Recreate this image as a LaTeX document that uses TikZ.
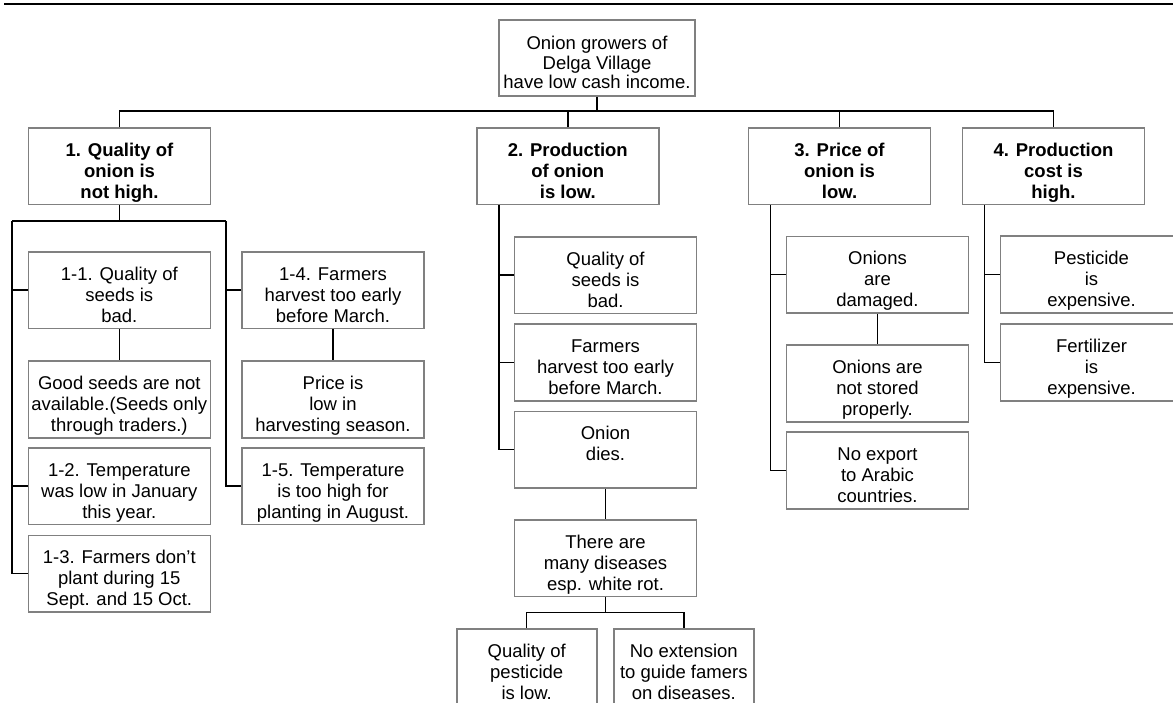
\documentclass[tikz,border=0pt]{standalone}
\usepackage{fontspec}
\setmainfont{Liberation Sans}
% three centred lines, set a little low in their box
\newcommand{\lines}[1]{\begin{tabular}{@{}c@{}}\rule{0pt}{28.3pt}#1\end{tabular}}
\begin{document}
\begin{tikzpicture}[x=1pt,y=-1pt,
  box/.style={draw=gray, line width=1.6pt, fill=white, minimum width=182pt,
    minimum height=76pt, inner sep=0pt,
    font=\fontsize{18.5}{21}\selectfont},
  headbox/.style={box, font=\fontsize{18.5}{21}\selectfont\bfseries},
  leafbox/.style={box, minimum width=140pt},
  link/.style={draw=black, line width=1.5pt},
  rule/.style={draw=black, line width=2.3pt}]
\useasboundingbox (0,0) rectangle (1173,702);
\clip (0,0) rectangle (1173,702);

% heading rule
\coordinate (ruleL) at (4,4.3);
\coordinate (ruleR) at (1173,4.3);
\draw[rule] (ruleL) -- (ruleR);

% core problem
\node[box, minimum width=196pt, font=\fontsize{18.5}{19.5}\selectfont] (root) at (597,58)
  {\lines{Onion growers of\\Delga Village\\have low cash income.}};

% direct causes
\node[headbox] (q1) at (119.5,166.3) {\lines{1. Quality of\\onion is\\not high.}};
\node[headbox] (q2) at (567.8,166.3) {\lines{2. Production\\of onion\\is low.}};
\node[headbox] (q3) at (839.5,166.3) {\lines{3. Price of\\onion is\\low.}};
\node[headbox] (q4) at (1053.5,166.3) {\lines{4. Production\\cost is\\high.}};

% branch 1
\node[box] (n11) at (119.3,290) {\lines{1-1. Quality of\\seeds is\\bad.}};
\node[box] (g11) at (119.3,399.5) {\lines{Good seeds are not\\available.(Seeds only\\through traders.)}};
\node[box] (n12) at (119.3,486) {\lines{1-2. Temperature\\was low in January\\this year.}};
\node[box] (n13) at (119.3,573.7) {\lines{1-3. Farmers don't\\plant during 15\\Sept. and 15 Oct.}};
\node[box] (n14) at (333,290) {\lines{1-4. Farmers\\harvest too early\\before March.}};
\node[box] (p14) at (333,399.5) {\lines{Price is\\low in\\harvesting season.}};
\node[box] (n15) at (333,486) {\lines{1-5. Temperature\\is too high for\\planting in August.}};

% branch 2
\node[box] (c21) at (605.5,275) {\lines{Quality of\\seeds is\\bad.}};
\node[box] (c22) at (605.5,362.5) {\lines{Farmers\\harvest too early\\before March.}};
\node[box] (c23) at (605.5,449.7) {\lines{Onion\\dies.\\~}};
\node[box] (d23) at (605.5,558.2) {\lines{There are\\many diseases\\esp. white rot.}};
\node[leafbox] (e1) at (526.7,667) {\lines{Quality of\\pesticide\\is low.}};
\node[leafbox] (e2) at (683.8,667) {\lines{No extension\\to guide famers\\on diseases.}};

% branch 3
\node[box] (c31) at (877.5,274.7) {\lines{Onions\\are\\damaged.}};
\node[box] (c32) at (877.5,383.4) {\lines{Onions are\\not stored\\properly.}};
\node[box] (c33) at (877.5,470.5) {\lines{No export\\to Arabic\\countries.}};

% branch 4
\node[box] (c41) at (1091.5,274.5) {\lines{Pesticide\\is\\expensive.}};
\node[box] (c42) at (1091.5,362.5) {\lines{Fertilizer\\is\\expensive.}};

% top-level bus
\coordinate (bus) at (597,111);
\draw[link] (root.south) -- (bus);
\draw[link] (q1.north) |- (bus) -| (q4.north);
\draw[link] (q2.north) -- (q2.north |- bus);
\draw[link] (q3.north) -- (q3.north |- bus);

% branch 1 connectors
\coordinate (b1) at (119.5,221);
\coordinate (l1) at (12,221);
\coordinate (r1) at (226,221);
\draw[link] (q1.south) -- (b1);
\draw[link] (l1) -- (r1);
\draw[link] (l1) |- (n11.west);
\draw[link] (l1) |- (n12.west);
\draw[link] (l1) |- (n13.west);
\draw[link] (r1) |- (n14.west);
\draw[link] (r1) |- (n15.west);
\draw[link] (n11.south) -- (g11.north);
\draw[link] (n14.south) -- (p14.north);

% branch 2 connectors
\coordinate (s2) at (499,0);
\draw[link] (q2.south -| s2) |- (c21.west);
\draw[link] (q2.south -| s2) |- (c22.west);
\draw[link] (q2.south -| s2) |- (c23.west);
\draw[link] (c23.south) -- (d23.north);
\coordinate (bus2) at (605.5,612.3);
\draw[link] (d23.south) -- (bus2);
\draw[link] (e1.north) |- (bus2) -| (e2.north);

% branch 3 connectors
\coordinate (s3) at (770.7,0);
\draw[link] (q3.south -| s3) |- (c31.west);
\draw[link] (q3.south -| s3) |- (c33.west);
\draw[link] (c31.south) -- (c32.north);

% branch 4 connectors
\coordinate (s4) at (984.5,0);
\draw[link] (q4.south -| s4) |- (c41.west);
\draw[link] (q4.south -| s4) |- (c42.west);
\end{tikzpicture}
\end{document}
